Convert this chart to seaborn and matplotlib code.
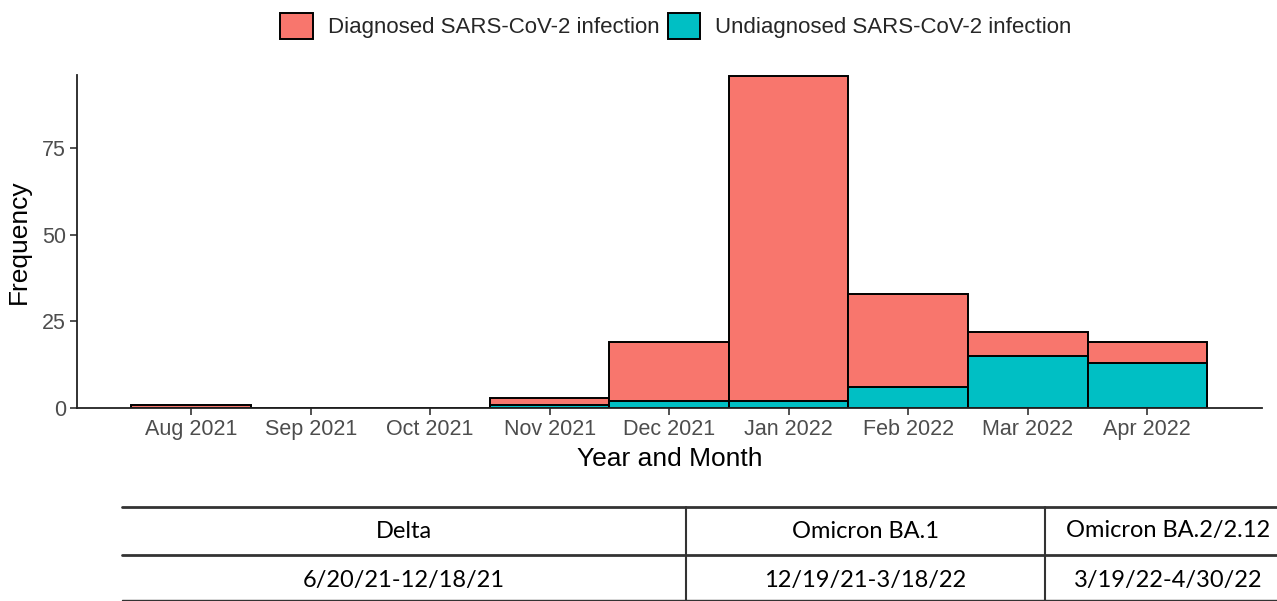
import matplotlib
matplotlib.use("Agg")
import matplotlib.pyplot as plt
from matplotlib.patches import Patch
from matplotlib.lines import Line2D
import pandas as pd
import seaborn as sns

months = ["Aug 2021", "Sep 2021", "Oct 2021", "Nov 2021", "Dec 2021",
          "Jan 2022", "Feb 2022", "Mar 2022", "Apr 2022"]
diagnosed = [1, 0, 0, 2, 17, 94, 27, 7, 6]
undiagnosed = [0, 0, 0, 1, 2, 2, 6, 15, 13]
series = ["Diagnosed SARS-CoV-2 infection", "Undiagnosed SARS-CoV-2 infection"]
colors = ["#F8766D", "#00BFC4"]

variants = ["Delta", "Omicron BA.1", "Omicron BA.2/2.12"]
periods = ["6/20/21-12/18/21", "12/19/21-3/18/22", "3/19/22-4/30/22"]

df = pd.DataFrame({"month": months, "diagnosed": diagnosed,
                   "undiagnosed": undiagnosed})
df["total"] = df["diagnosed"] + df["undiagnosed"]

sns.set_style("white")
plt.rcParams["font.family"] = ["Liberation Sans", "DejaVu Sans"]

W, H = 1277, 601
fig = plt.figure(figsize=(W / 100, H / 100), dpi=100)
ax = fig.add_axes([77 / W, 1 - 408 / H, (1262 - 77) / W, (408 - 75) / H])

# stacked bars: total in red, undiagnosed drawn over it at the bottom
sns.barplot(data=df, x="month", y="total", color=colors[0], width=1,
            edgecolor="black", linewidth=1.4, saturation=1, ax=ax)
sns.barplot(data=df, x="month", y="undiagnosed", color=colors[1], width=1,
            edgecolor="black", linewidth=1.4, saturation=1, ax=ax)

ax.set_xlim(-0.955, 8.96)
ax.set_ylim(0, 96.2)
ax.set_yticks([0, 25, 50, 75])
ax.set_xlabel("Year and Month", fontsize=19, color="black", labelpad=5)
ax.set_ylabel("Frequency", fontsize=19, color="black", labelpad=8)
ax.tick_params(axis="both", labelsize=15.5, labelcolor="#4D4D4D",
               color="#333333", length=5, width=1.2, direction="out",
               bottom=True, left=True, pad=3)
for side in ["top", "right"]:
    ax.spines[side].set_visible(False)
for side in ["left", "bottom"]:
    ax.spines[side].set_color("#222222")
    ax.spines[side].set_linewidth(1.3)

handles = [Patch(facecolor=c, edgecolor="black", linewidth=1.4, label=s)
           for c, s in zip(colors, series)]
fig.legend(handles=handles, loc="center", ncol=2, frameon=False,
           bbox_to_anchor=(676 / W, 1 - 26 / H), fontsize=16,
           handlelength=1.45, handleheight=1.45, handletextpad=0.7,
           columnspacing=0.35)

# variant period table below the chart (figure pixel coordinates)
tab = fig.add_axes([0, 0, 1, 1])
tab.set_xlim(0, W)
tab.set_ylim(H, 0)
tab.axis("off")
for y, lw in [(507, 2), (555, 2), (600, 1)]:
    tab.add_line(Line2D([122, W], [y, y], color="#333333", lw=lw))
for x in [686, 1045]:
    tab.add_line(Line2D([x, x], [507, H], color="#333333", lw=1.5))
col_centers = [404, 865, 1168]
for cx, v, p in zip(col_centers, variants, periods):
    tab.text(cx, 531, v, ha="center", va="center", fontsize=17,
             family="Lato", color="black")
    tab.text(cx, 581, p, ha="center", va="center", fontsize=17,
             family="Lato", color="black")

fig.savefig("out.png", dpi=100)
